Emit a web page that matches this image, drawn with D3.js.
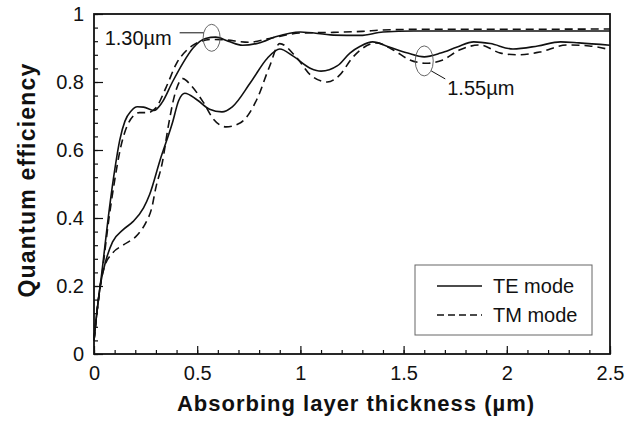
<!DOCTYPE html>
<html>
<head>
<meta charset="utf-8">
<script src="https://cdn.jsdelivr.net/npm/d3@7"></script>
<style>
  body { margin: 0; background: #fff; }
  svg text { font-family: "Liberation Sans", Arial, sans-serif; fill: #111; }
</style>
</head>
<body>
<svg id="chart" width="634" height="422"></svg>
<script>
// curves: [thickness (um), quantum efficiency]
const te130 = [[0,0.04],[0.01,0.10],[0.04,0.25],[0.075,0.43],[0.1,0.54],[0.125,0.63],[0.15,0.685],[0.18,0.715],[0.21,0.727],[0.24,0.726],[0.29,0.716],[0.33,0.74],[0.38,0.80],[0.43,0.855],[0.48,0.90],[0.54,0.928],[0.59,0.932],[0.65,0.92],[0.72,0.908],[0.8,0.915],[0.88,0.933],[1.0,0.947],[1.16,0.938],[1.29,0.937],[1.4,0.947],[1.55,0.95],[1.9,0.95],[2.2,0.95],[2.5,0.95]];
const tm130 = [[0,0.04],[0.01,0.10],[0.04,0.24],[0.075,0.41],[0.1,0.51],[0.13,0.61],[0.16,0.67],[0.19,0.70],[0.22,0.71],[0.26,0.71],[0.30,0.724],[0.35,0.785],[0.40,0.855],[0.45,0.894],[0.51,0.918],[0.57,0.925],[0.63,0.924],[0.75,0.917],[0.85,0.928],[1.0,0.944],[1.16,0.946],[1.3,0.949],[1.4,0.953],[1.6,0.955],[2.0,0.955],[2.5,0.956]];
const te155 = [[0,0.04],[0.01,0.10],[0.03,0.20],[0.06,0.28],[0.09,0.33],[0.14,0.365],[0.19,0.39],[0.24,0.43],[0.27,0.47],[0.32,0.57],[0.38,0.68],[0.41,0.745],[0.44,0.767],[0.50,0.747],[0.56,0.72],[0.62,0.712],[0.67,0.727],[0.76,0.80],[0.84,0.87],[0.90,0.897],[0.965,0.876],[1.05,0.84],[1.10,0.832],[1.18,0.848],[1.24,0.885],[1.29,0.905],[1.35,0.918],[1.43,0.903],[1.52,0.885],[1.60,0.874],[1.68,0.885],[1.76,0.903],[1.84,0.918],[1.92,0.913],[2.03,0.897],[2.15,0.906],[2.26,0.918],[2.35,0.915],[2.5,0.908]];
const tm155 = [[0,0.04],[0.01,0.10],[0.03,0.20],[0.05,0.255],[0.09,0.297],[0.14,0.32],[0.21,0.35],[0.25,0.385],[0.28,0.43],[0.30,0.49],[0.33,0.56],[0.36,0.67],[0.39,0.76],[0.43,0.81],[0.47,0.79],[0.53,0.74],[0.58,0.69],[0.64,0.668],[0.71,0.68],[0.79,0.75],[0.85,0.845],[0.90,0.913],[0.98,0.873],[1.05,0.82],[1.13,0.80],[1.19,0.82],[1.25,0.87],[1.29,0.894],[1.37,0.915],[1.45,0.894],[1.53,0.865],[1.61,0.855],[1.69,0.865],[1.77,0.894],[1.87,0.909],[1.97,0.885],[2.05,0.88],[2.16,0.888],[2.29,0.909],[2.40,0.906],[2.5,0.895]];

const xTicks = [0, 0.5, 1, 1.5, 2, 2.5];
const xTickLabels = ['0', '0.5', '1', '1.5', '2', '2.5'];
const yTicks = [0, 0.2, 0.4, 0.6, 0.8, 1];
const yTickLabels = ['0', '0.2', '0.4', '0.6', '0.8', '1'];
const legendLabels = ['TE mode', 'TM mode'];
// wavelength callouts: [label, thickness, efficiency] of the circled spot
const callouts = [['1.30\u00b5m', 0.57, 0.93], ['1.55\u00b5m', 1.60, 0.862]];

const svg = d3.select('#chart');
const M = { left: 94, right: 610, top: 14, bottom: 354 };

const x = d3.scaleLinear().domain([0, 2.5]).range([M.left, M.right]);
const y = d3.scaleLinear().domain([0, 1]).range([M.bottom, M.top]);

// minor ticks (inward)
svg.append('g').attr('transform', `translate(0,${M.bottom})`)
  .call(d3.axisBottom(x).tickValues(d3.range(0, 2.5001, 0.1)).tickSize(-4).tickFormat(''))
  .call(g => g.select('.domain').remove());
svg.append('g').attr('transform', `translate(${M.left},0)`)
  .call(d3.axisLeft(y).tickValues(d3.range(0, 1.0001, 0.04)).tickSize(-4).tickFormat(''))
  .call(g => g.select('.domain').remove());

// major ticks + labels
svg.append('g').attr('transform', `translate(0,${M.bottom})`)
  .call(d3.axisBottom(x).tickValues(xTicks).tickSize(-8).tickPadding(12)
    .tickFormat((d, i) => xTickLabels[i]))
  .call(g => g.select('.domain').remove())
  .call(g => g.selectAll('text').attr('font-size', 20).attr('font-family', null));
svg.append('g').attr('transform', `translate(${M.left},0)`)
  .call(d3.axisLeft(y).tickValues(yTicks).tickSize(-9).tickPadding(10)
    .tickFormat((d, i) => yTickLabels[i]))
  .call(g => g.select('.domain').remove())
  .call(g => g.selectAll('text').attr('font-size', 20).attr('font-family', null));

svg.selectAll('.tick line').attr('stroke', '#111').attr('stroke-width', 1.2);

// frame
svg.append('rect')
  .attr('x', M.left).attr('y', M.top)
  .attr('width', M.right - M.left).attr('height', M.bottom - M.top)
  .attr('fill', 'none').attr('stroke', '#111').attr('stroke-width', 1.8);

const line = d3.line()
  .x(d => x(d[0])).y(d => y(d[1]))
  .curve(d3.curveMonotoneX);

[te130, te155].forEach(s => {
  svg.append('path').datum(s).attr('d', line)
    .attr('fill', 'none').attr('stroke', '#111').attr('stroke-width', 1.6);
});
[tm130, tm155].forEach(s => {
  svg.append('path').datum(s).attr('d', line)
    .attr('fill', 'none').attr('stroke', '#111').attr('stroke-width', 1.6)
    .attr('stroke-dasharray', '8,5');
});

// callouts
const c1 = callouts[0];
svg.append('ellipse').attr('cx', x(c1[1])).attr('cy', y(c1[2]))
  .attr('rx', 8.5).attr('ry', 13.5)
  .attr('fill', 'none').attr('stroke', '#555').attr('stroke-width', 0.9);
svg.append('line')
  .attr('x1', x(c1[1]) - 32).attr('x2', x(c1[1]) - 8)
  .attr('y1', y(c1[2]) - 5).attr('y2', y(c1[2]) - 5)
  .attr('stroke', '#111').attr('stroke-width', 1);
svg.append('text').attr('x', x(c1[1]) - 107).attr('y', y(c1[2]) + 7)
  .attr('font-size', 20).text(c1[0]);

const c2 = callouts[1];
svg.append('ellipse').attr('cx', x(c2[1])).attr('cy', y(c2[2]))
  .attr('rx', 9).attr('ry', 15)
  .attr('fill', 'none').attr('stroke', '#555').attr('stroke-width', 0.9);
svg.append('line')
  .attr('x1', x(c2[1]) + 7).attr('x2', x(c2[1]) + 21)
  .attr('y1', y(c2[2]) + 10).attr('y2', y(c2[2]) + 18)
  .attr('stroke', '#111').attr('stroke-width', 1);
svg.append('text').attr('x', x(c2[1]) + 23).attr('y', y(c2[2]) + 34)
  .attr('font-size', 20).text(c2[0]);

// legend
const lg = svg.append('g').attr('transform', 'translate(415,265)');
lg.append('rect').attr('width', 177).attr('height', 70)
  .attr('fill', '#fff').attr('stroke', '#666').attr('stroke-width', 1);
legendLabels.forEach((t, i) => {
  const ly = 21 + i * 29;
  lg.append('line').attr('x1', 22).attr('x2', 67).attr('y1', ly).attr('y2', ly)
    .attr('stroke', '#111').attr('stroke-width', 1.4)
    .attr('stroke-dasharray', i === 1 ? '7,4' : null);
  lg.append('text').attr('x', 78).attr('y', ly + 7).attr('font-size', 20).text(t);
});

// axis titles
svg.append('text')
  .attr('x', (M.left + M.right) / 2 + 4).attr('y', 411)
  .attr('text-anchor', 'middle')
  .attr('font-size', 22).attr('font-weight', 'bold').attr('letter-spacing', 1)
  .text('Absorbing layer thickness (\u00b5m)');
svg.append('text')
  .attr('transform', 'translate(35,180) rotate(-90)')
  .attr('text-anchor', 'middle')
  .attr('font-size', 23).attr('font-weight', 'bold').attr('letter-spacing', 1.2)
  .text('Quantum efficiency');
</script>
</body>
</html>
